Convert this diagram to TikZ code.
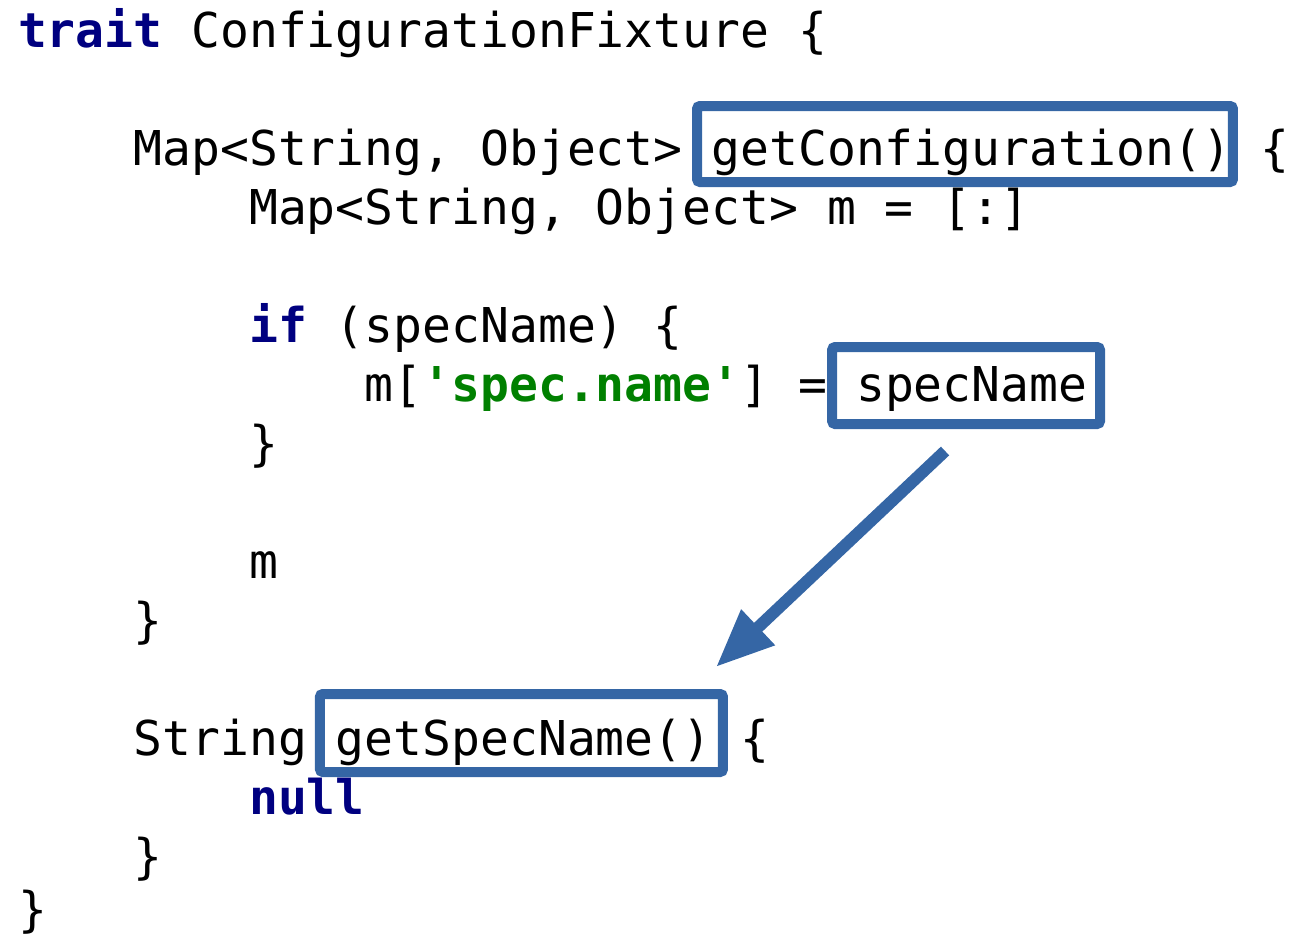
\documentclass[tikz,border=0pt]{standalone}
\usepackage{fontspec}
\setmonofont{DejaVu Sans Mono}
\usetikzlibrary{arrows.meta,calc,fit}

\definecolor{kwcolor}{HTML}{000080}
\definecolor{strcolor}{HTML}{008000}
\definecolor{markblue}{HTML}{3566A5}

\newcommand{\kw}[1]{{\color{kwcolor}\bfseries #1}}
\newcommand{\str}[1]{{\color{strcolor}\bfseries #1}}
\newcommand{\sq}{\char39\relax}

\tikzset{
  code/.style={anchor=base west, inner sep=0pt, outer sep=0pt,
    font=\ttfamily\fontsize{48}{59}\selectfont, text=black},
  markbox/.style={draw=markblue, line width=10pt, rounded corners=3pt,
    inner sep=0pt},
  flow/.style={draw=markblue, line width=12pt,
    -{Triangle[length=58pt,width=46pt]}}
}

\begin{document}
\begin{tikzpicture}[x=1pt, y=-1pt]
\useasboundingbox (0,0) rectangle (1292,935);

% one column of the code = 28.9pt, one line = 59pt
\node[code] (l0)  at (18,47)     {\kw{trait} ConfigurationFixture \{};

\node[code] (l2)  at (133.6,165) {Map<String, Object>};
\node[code] (gc)  at (711.6,165) {getConfiguration()};
\node[code] (l2b) at (1260.7,165){\{};

\node[code] (l3)  at (249.2,224) {Map<String, Object> m = [:]};

\node[code] (l5)  at (249.2,342) {\kw{if} (specName) \{};
\node[code] (l6)  at (364.8,401) {m[\str{\sq spec.name\sq}] =};
\node[code] (sn)  at (856.1,401) {specName};
\node[code] (l7)  at (249.2,460) {\}};

\node[code] (l9)  at (249.2,578) {m};
\node[code] (l10) at (133.6,637) {\}};

\node[code] (l12) at (133.6,755) {String};
\node[code] (gs)  at (335.9,755) {getSpecName()};
\node[code] (l12b) at (740.5,755){\{};
\node[code] (l13) at (249.2,814) {\kw{null}};
\node[code] (l14) at (133.6,873) {\}};
\node[code] (l15) at (18,926)    {\}};

% highlight frames around the method names and the value
\node[markbox, fit={($(gc.base west)+(-14.6,-59)$) ($(gc.base east)+(1.2,17)$)}] (gcbox) {};
\node[markbox, fit={($(sn.base west)+(-24,-54)$) ($(sn.base east)+(12.7,23)$)}] (snbox) {};
\node[markbox, fit={($(gs.base west)+(-16,-61)$) ($(gs.base east)+(11.4,17)$)}] (gsbox) {};

% the value flows down into getSpecName()
\draw[flow] ($(snbox.south)+(-21,22)$) -- ($(gsbox.north east)+(-12,-22)$);
\end{tikzpicture}
\end{document}
